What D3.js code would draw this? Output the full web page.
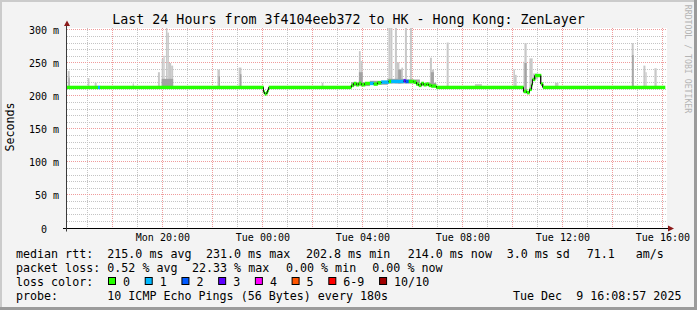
<!DOCTYPE html>
<html><head><meta charset="utf-8">
<script src="https://cdn.jsdelivr.net/npm/d3@7/dist/d3.min.js"></script>
<style>
html,body{margin:0;padding:0;background:#f3f3f3;}
svg{display:block;}
text{font-family:"DejaVu Sans Mono",monospace;fill:#000;}
</style></head><body>
<svg id="c" width="697" height="310"></svg>
<script>
// ---------------- data ----------------
const title = "Last 24 Hours from 3f4104eeb372 to HK - Hong Kong: ZenLayer";
const yAxisTitle = "Seconds";
const watermark = "RRDTOOL / TOBI OETIKER";
// hours counted from Mon 2025-12-08 00:00
const startHour = 16 + 11/60;
const endHour = 40 + 11/60;
const xTickHours = [20, 24, 28, 32, 36, 40];
const xTickLabels = ["Mon 20:00", "Tue 00:00", "Tue 04:00", "Tue 08:00", "Tue 12:00", "Tue 16:00"];
const yTickValues = [0, 50, 100, 150, 200, 250, 300];
const yTickLabels = ["0\u00a0\u00a0", "50 m", "100 m", "150 m", "200 m", "250 m", "300 m"];

// median rtt (ms), step changes, with loss count (of 10) per step
const medianHours  = [16.18, 17.42, 17.50, 24.04, 24.09, 24.15, 24.21, 24.25, 27.55, 27.65, 27.75, 27.85, 27.95, 28.10, 28.30, 28.45, 28.60, 28.75, 29.05, 29.15, 29.65, 29.72, 29.85, 30.05, 30.15, 30.25, 30.35, 30.45, 30.55, 30.65, 30.75, 30.95, 34.44, 34.58, 34.68, 34.76, 34.80, 34.90, 35.14, 35.22, 40.10];
const medianValues = [213,   213,   213,   206,   203,   205,   209,   213,   216,   219,   217,   219,   217,   219,   219,   218,   220,   221,   222,   222,   223,   222,   222,   221,   218,   216,   219,   217,   218,   216,   215,   213,   207,   205,   210,   217,   225,   231,   218,   213,   213];
const lossValues   = [0,     1,     0,     0,     0,     0,     0,     0,     0,     0,     0,     0,     0,     0,     1,     0,     0,     1,     0,     1,     3,     2,     0,     0,     0,     0,     0,     0,     0,     0,     0,     0,     0,     0,     0,     0,     0,     0,     0,     0,     0];

// smoke: outer (min..max ping) spikes
const smokeStart  = [16.21,17.01,17.29,18.81,19.82,19.97,20.04,20.14,20.20,20.26,20.35,22.20,23.05,26.37,27.86,27.93,29.04,29.12,29.30,29.38,29.48,29.56,29.70,29.90,30.70,30.78,31.37,32.50,34.04,34.10,34.44,34.48,34.68,34.82,35.70,38.77,39.24,39.32,39.68];
const smokeEnd    = [16.29,17.08,17.37,18.86,19.90,20.04,20.09,20.20,20.26,20.35,20.43,22.30,23.16,26.44,27.93,28.01,29.12,29.20,29.38,29.48,29.56,29.62,29.78,29.98,30.78,30.86,31.45,32.78,34.10,34.17,34.48,34.57,34.81,35.02,35.84,38.85,39.32,39.37,39.77];
const smokeTop    = [238,227,220,219,236,256,261,320,296,250,246,240,243,220,268,253,320,320,320,251,240,243,320,320,258,240,281,218,240,232,252,280,257,234,220,280,246,236,242];
const smokeBottom = [211,211,211,211,211,211,211,211,211,211,211,211,211,211,216,216,219,219,219,219,219,219,219,219,214,214,211,211,211,211,205,204,210,225,211,211,211,211,211];
// smoke: inner (darker) band
const coreStart  = [16.25,19.97,22.25,23.10,27.55,27.86,28.30,29.00,29.43,29.70,30.30,30.74,34.48,38.79];
const coreEnd    = [16.29,20.43,22.30,23.16,28.30,28.01,29.00,29.70,29.56,30.30,30.95,30.86,34.57,38.85];
const coreTop    = [228,226,230,233,221,236,223,226,240,225,220,236,250,262];
const coreBottom = [211,211,211,211,215,216,217,219,219,219,215,214,204,211];

const lossLabels = ["0", "1", "2", "3", "4", "5", "6-9", "10/10"];
const lossColors = ["#26ff00", "#00b8ff", "#0059ff", "#5e00ff", "#ff00ff", "#ff5500", "#ff0000", "#a00000"];
const rttStats  = ["215.0 ms avg", "231.0 ms max", "202.8 ms min", "214.0 ms now", "3.0 ms sd", "71.1   am/s"];
const lossStats = ["0.52 % avg", "22.33 % max", "0.00 % min", "0.00 % now"];
const probeText = "10 ICMP Echo Pings (56 Bytes) every 180s";
const stampText = "Tue Dec  9 16:08:57 2025";

// ---------------- drawing ----------------
const W = 697, H = 310;
const P = {l: 67, r: 667, t: 28, b: 228};
const base = new Date(2025, 11, 8, 0, 0, 0).getTime();
const toDate = h => new Date(base + h * 3600e3);
const nb = s => s.replace(/ /g, "\u00a0");
const snap = v => Math.round(v - 0.5) + 0.5;

const x = d3.scaleTime().domain([toDate(startHour), toDate(endHour)]).range([P.l, P.r]);
const y = d3.scaleLinear().domain([0, 303]).range([P.b, P.t]);

const svg = d3.select("#c");
svg.append("rect").attr("width", W).attr("height", H).attr("fill", "#f3f3f3");
svg.append("rect").attr("x", 0).attr("y", 0).attr("width", W).attr("height", 2).attr("fill", "#cbcbcb");
svg.append("rect").attr("x", 0).attr("y", 0).attr("width", 2).attr("height", H).attr("fill", "#cbcbcb");
svg.append("rect").attr("x", 0).attr("y", H - 3).attr("width", W).attr("height", 3).attr("fill", "#9b9b9b");
svg.append("rect").attr("x", W - 3).attr("y", 0).attr("width", 3).attr("height", H).attr("fill", "#9b9b9b");

svg.append("rect").attr("x", P.l).attr("y", P.t).attr("width", P.r - P.l).attr("height", P.b - P.t).attr("fill", "#ffffff");
svg.append("defs").append("clipPath").attr("id", "plot")
  .append("rect").attr("x", P.l).attr("y", P.t).attr("width", P.r - P.l).attr("height", P.b - P.t);

// grid
const grid = svg.append("g");
const hours = d3.timeHour.range(toDate(startHour), toDate(endHour));
const minorX = hours.filter(d => d.getHours() % 2 === 1);
const majorX = hours.filter(d => d.getHours() % 2 === 0);
const minorY = d3.range(10, 301, 10).filter(v => v % 50 !== 0);
const majorY = d3.range(50, 301, 50);
const minorCol = "#c4c4c4", majorCol = "#ef9c9c";
grid.selectAll(".mnx").data(minorX).join("line")
  .attr("x1", d => snap(x(d))).attr("x2", d => snap(x(d))).attr("y1", P.t).attr("y2", P.b)
  .attr("stroke", minorCol).attr("stroke-dasharray", "1,1");
grid.selectAll(".mny").data(minorY).join("line")
  .attr("y1", d => snap(y(d))).attr("y2", d => snap(y(d))).attr("x1", P.l).attr("x2", P.r)
  .attr("stroke", minorCol).attr("stroke-dasharray", "1,1");
grid.selectAll(".mjx").data(majorX).join("line")
  .attr("x1", d => snap(x(d))).attr("x2", d => snap(x(d))).attr("y1", P.t).attr("y2", P.b)
  .attr("stroke", majorCol).attr("stroke-dasharray", "1,1");
grid.selectAll(".mjy").data(majorY).join("line")
  .attr("y1", d => snap(y(d))).attr("y2", d => snap(y(d))).attr("x1", P.l).attr("x2", P.r)
  .attr("stroke", majorCol).attr("stroke-dasharray", "1,1");

// smoke
const plot = svg.append("g").attr("clip-path", "url(#plot)");
const outer = smokeStart.map((s, i) => ({s, e: smokeEnd[i], top: smokeTop[i], bot: smokeBottom[i]}));
const core = coreStart.map((s, i) => ({s, e: coreEnd[i], top: coreTop[i], bot: coreBottom[i]}));
plot.selectAll(".sm").data(outer).join("rect")
  .attr("x", d => x(toDate(d.s))).attr("width", d => x(toDate(d.e)) - x(toDate(d.s)))
  .attr("y", d => y(d.top)).attr("height", d => y(d.bot) - y(d.top))
  .attr("fill", "#c8c8c8");
plot.selectAll(".co").data(core).join("rect")
  .attr("x", d => x(toDate(d.s))).attr("width", d => x(toDate(d.e)) - x(toDate(d.s)))
  .attr("y", d => y(d.top)).attr("height", d => y(d.bot) - y(d.top))
  .attr("fill", "#a2a2a2");

// median thin line (under band)
const med = medianHours.map((h, i) => ({h, v: medianValues[i], loss: lossValues[i]}));
plot.append("path").datum(med)
  .attr("d", d3.line().x(d => x(toDate(d.h))).y(d => y(d.v)).curve(d3.curveStepAfter))
  .attr("fill", "none").attr("stroke", "#1a1a1a").attr("stroke-width", 1);
// loss-coloured median band
const lossIdx = l => l >= 10 ? 7 : (l >= 6 ? 6 : l);
const segs = med.slice(0, -1).map((d, i) => ({s: d.h, e: med[i + 1].h, v: d.v, loss: d.loss}));
const halfBand = 1.7;
plot.selectAll(".band").data(segs).join("rect")
  .attr("x", d => x(toDate(d.s))).attr("width", d => x(toDate(d.e)) - x(toDate(d.s)) + 0.4)
  .attr("y", d => y(d.v) - halfBand).attr("height", 2 * halfBand)
  .attr("fill", d => lossColors[lossIdx(d.loss)]);
// vertical step connectors of the median line
const steps = med.slice(1).map((d, i) => ({h: d.h, v0: med[i].v, v1: d.v})).filter(d => d.v0 !== d.v1);
plot.selectAll(".step").data(steps).join("line")
  .attr("x1", d => snap(x(toDate(d.h)))).attr("x2", d => snap(x(toDate(d.h))))
  .attr("y1", d => y(d.v0)).attr("y2", d => y(d.v1))
  .attr("stroke", "#1a1a1a").attr("stroke-width", 1);

// axes
const xAxis = d3.axisBottom(x).tickValues(xTickHours.map(toDate))
  .tickFormat((d, i) => xTickLabels[i]).tickSize(0);
const gx = svg.append("g").attr("transform", `translate(0,${P.b})`).call(xAxis);
gx.select(".domain").remove();
gx.selectAll("text").attr("y", 13).attr("dy", 0)
  .style("font-family", "DejaVu Sans Mono").style("font-size", "10px").attr("fill", "#000");

const yAxis = d3.axisLeft(y).tickValues(yTickValues)
  .tickFormat((d, i) => yTickLabels[i]).tickSize(0).tickPadding(8);
const gy = svg.append("g").attr("transform", `translate(${P.l},0)`).call(yAxis);
gy.select(".domain").remove();
gy.selectAll("text").attr("dy", "0.4em")
  .style("font-family", "DejaVu Sans Mono").style("font-size", "10px").attr("fill", "#000");

// axis lines + arrows
svg.append("line").attr("x1", 63).attr("x2", 669).attr("y1", P.b + 0.5).attr("y2", P.b + 0.5)
  .attr("stroke", "#000");
svg.append("line").attr("x1", P.l - 0.5).attr("x2", P.l - 0.5).attr("y1", P.b + 3.5).attr("y2", 23)
  .attr("stroke", "#3a3a3a");
svg.append("path").attr("d", "M64,26 L70,26 L67,20.5 Z").attr("fill", "#8b1a1a");
svg.append("path").attr("d", "M668,225.5 L668,231.5 L674,228.5 Z").attr("fill", "#8b1a1a");

// titles
svg.append("text").attr("x", W / 2).attr("y", 24).attr("text-anchor", "middle")
  .style("font-size", "13.3px").text(title);
svg.append("text").attr("transform", "translate(14,127) rotate(-90)").attr("text-anchor", "middle")
  .style("font-size", "11.66px").text(yAxisTitle);
svg.append("text").attr("transform", "translate(685,59) rotate(90)").attr("text-anchor", "middle")
  .style("font-size", "8.2px").style("fill", "#b4b4b4").text(watermark);

// legend
const LF = "11.66px", CW = 7.02;
const lg = svg.append("g").style("font-size", LF);
lg.append("text").attr("x", 16).attr("y", 257.5).text(nb("median rtt:"));
const rttX = [107.3, 206, 306, 407.7, 506.7, 586.7];
rttStats.forEach((s, i) => lg.append("text").attr("x", rttX[i]).attr("y", 257.5).text(nb(s)));
lg.append("text").attr("x", 16).attr("y", 271.5).text(nb("packet loss:"));
const lossX = [107.3, 192, 286, 372.3];
lossStats.forEach((s, i) => lg.append("text").attr("x", lossX[i]).attr("y", 271.5).text(nb(s)));
lg.append("text").attr("x", 16).attr("y", 285.5).text(nb("loss color:"));
let bx = 108.5;
lossLabels.forEach((lab, i) => {
  lg.append("rect").attr("x", bx).attr("y", 277.5).attr("width", 7).attr("height", 7)
    .attr("fill", lossColors[i]).attr("stroke", "#000").attr("stroke-width", 1);
  lg.append("text").attr("x", bx + 14.5).attr("y", 285.5).text(lab);
  bx += 14.5 + lab.length * CW + 15.2;
});
lg.append("text").attr("x", 16).attr("y", 299.5).text(nb("probe:"));
lg.append("text").attr("x", 107.3).attr("y", 299.5).text(nb(probeText));
lg.append("text").attr("x", 513).attr("y", 299.5).text(nb(stampText));
</script>
</body></html>
